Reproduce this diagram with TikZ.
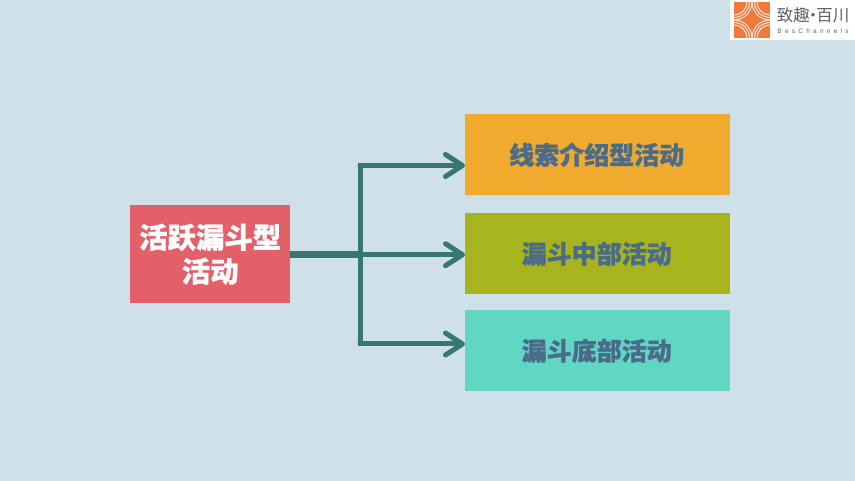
\documentclass[tikz,border=0pt]{standalone}
\usepackage{fontspec}
\usetikzlibrary{arrows.meta,calc}
\newfontfamily\cjk[BoldFont={Noto Sans CJK SC Black},BoldFeatures={FakeBold=0.9}]{Noto Sans CJK SC}
\definecolor{bgc}{HTML}{D0E0E8}
\definecolor{redc}{HTML}{E46069}
\definecolor{orc}{HTML}{F0AB2F}
\definecolor{grc}{HTML}{A8B41E}
\definecolor{tlc}{HTML}{5FD7C3}
\definecolor{txc}{HTML}{4A6B8A}
\definecolor{arc}{HTML}{35796E}
\definecolor{logoc}{HTML}{EE7B3C}
\definecolor{logot}{HTML}{5A6068}
\tikzset{
  x=1pt,y=-1pt,
  box/.style={inner sep=0pt,minimum width=265pt,minimum height=81pt,anchor=north west,text=txc,font=\cjk\bfseries\fontsize{25}{30}\selectfont},
  srcbox/.style={inner sep=0pt,minimum width=160pt,minimum height=98pt,anchor=north west,fill=redc,text=white,align=center,font=\cjk\bfseries\fontsize{28.4}{34}\selectfont},
  trunk/.style={draw=arc,line width=7pt},
  branch/.style={draw=arc,line width=5pt,line cap=round},
  arrowed/.style={branch,-{Straight Barb[length=17pt,width=22pt,line width=5pt,round]}},
  swirl/.style={draw=white!80!logoc,line width=1pt},
}
\begin{document}
\begin{tikzpicture}
\useasboundingbox (0,0) rectangle (855,481);
\fill[bgc] (0,0) rectangle (855,481);
\node[srcbox] (src) at (130,205) {活跃漏斗型\\活动};
\node[box,fill=orc] (b1) at (465,114) {\kern-2pt 线索介绍型活动};
\node[box,fill=grc] (b2) at (465,213) {\kern-2pt 漏斗中部活动};
\node[box,fill=tlc] (b3) at (465,310) {\kern-2pt 漏斗底部活动};
\coordinate (jm) at (360,254.7);
\coordinate (jt) at (360,165.5);
\coordinate (jb) at (360,344);
\draw[trunk] (src.east |- jm) -- (jm);
\draw[branch,line cap=butt] (360,163) -- (360,346.5);
\draw[arrowed] (jt) -- (b1.west |- jt);
\draw[arrowed] (jm) -- (b2.west |- jm);
\draw[arrowed] (jb) -- (b3.west |- jb);
% logo
\fill[white] (730,0) rectangle (855,40);
\fill[logoc] (734,2) rectangle (770,38);
\begin{scope}
\clip (734,2) rectangle (770,38);
\foreach \r in {13,15.5,18}{
  \draw[swirl] (734,2) ++(\r,0) arc[start angle=0,end angle=90,radius=\r];
  \draw[swirl] (770,2) ++(-\r,0) arc[start angle=180,end angle=90,radius=\r];
  \draw[swirl] (734,38) ++(\r,0) arc[start angle=0,end angle=-90,radius=\r];
  \draw[swirl] (770,38) ++(-\r,0) arc[start angle=180,end angle=270,radius=\r];
}
\end{scope}
\node[inner sep=0pt,text=logot,font=\cjk\fontsize{16.5}{20}\selectfont] (logotext) at (813,15) {致趣\kern-5pt·\kern-5pt 百川};
\node[inner sep=0pt,text=logot,font=\fontspec{Liberation Sans}\fontsize{6.5}{8}\selectfont] (logosub) at (813,31) {B\,\,\,e\,\,\,s\,\,\,C\,\,\,h\,\,\,a\,\,\,n\,\,\,n\,\,\,e\,\,\,l\,\,\,s};
\end{tikzpicture}
\end{document}
